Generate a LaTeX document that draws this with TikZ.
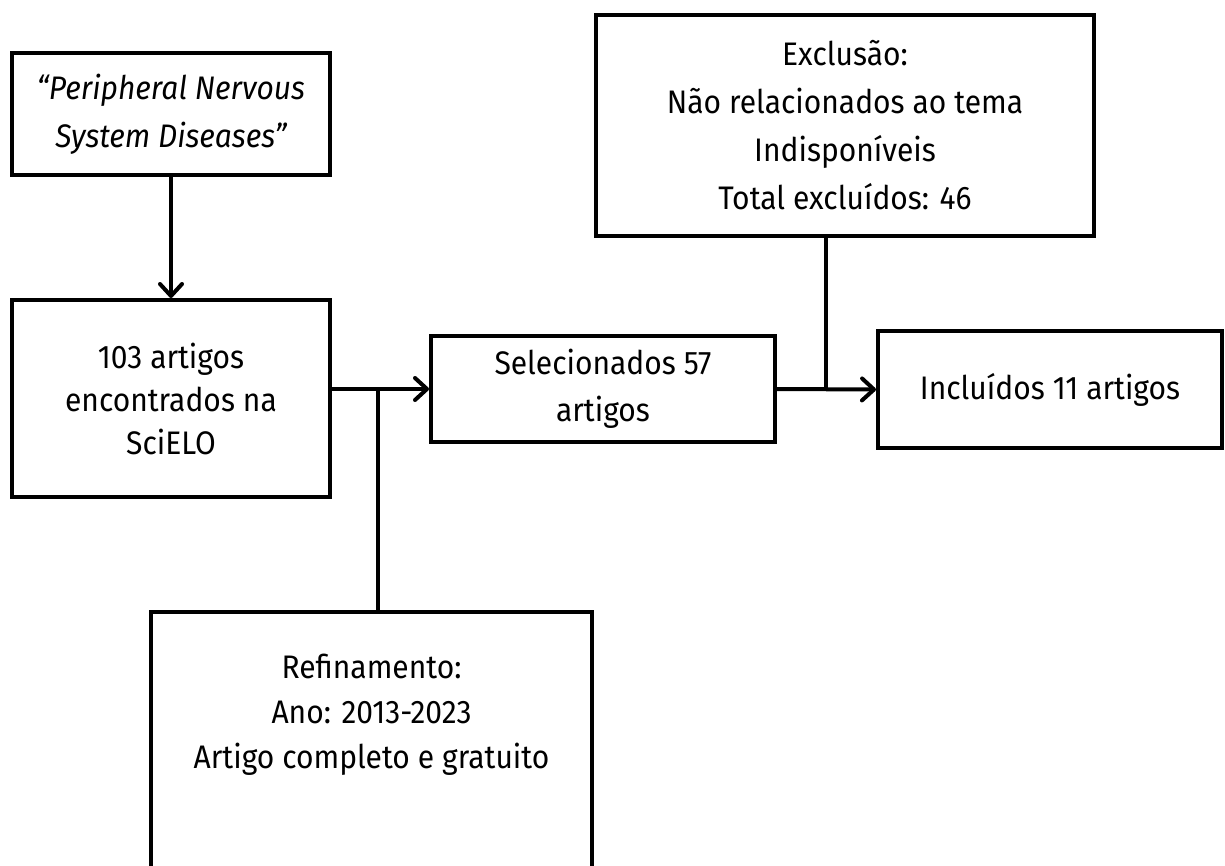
\documentclass[tikz,border=0pt]{standalone}
\usepackage{fontspec}
\setmainfont[FakeStretch=0.92]{Fira Sans}
\usetikzlibrary{arrows.meta}
\begin{document}
\begin{tikzpicture}[x=0.5pt,y=-0.5pt,
  box/.style={draw=black, line width=2pt, rectangle, align=center, inner sep=0pt,
    font=\fontsize{16.3pt}{23pt}\selectfont},
  arr/.style={line width=2pt, -{Straight Barb[length=6pt,width=11pt,round]}},
  link/.style={line width=2pt}]
\useasboundingbox (0,0) rectangle (1225,866);
\fill[white] (0,0) rectangle (1225,866);
\clip (0,0) rectangle (1225,866);
\node[box, minimum width=159pt, minimum height=61pt,
  font=\itshape\fontsize{16.3pt}{24pt}\selectfont] (b1) at (171,114)
  {“Peripheral Nervous\\System Diseases”};
\node[box, minimum width=159pt, minimum height=98.5pt,
  font=\fontsize{16.3pt}{21.5pt}\selectfont] (b2) at (171,398.5)
  {103 artigos\\encontrados na\\SciELO};
\node[box, minimum width=172pt, minimum height=53pt,
  font=\fontsize{16.3pt}{23.5pt}\selectfont] (b3) at (603,389)
  {Selecionados 57\\artigos};
\node[box, minimum width=172pt, minimum height=58.5pt] (b4) at (1050,389.5)
  {Incluídos 11 artigos};
\node[box, minimum width=249pt, minimum height=110.5pt,
  font=\fontsize{16.3pt}{24pt}\selectfont] (ex) at (845,125.5)
  {Exclusão:\\Não relacionados ao tema\\Indisponíveis\\Total excluídos: 46};
\node[box, anchor=north, minimum width=220.5pt, inner ysep=21pt, text depth=120pt,
  font=\fontsize{16.3pt}{22.5pt}\selectfont] (rf) at (371.5,610)
  {Refinamento:\\Ano: 2013-2023\\Artigo completo e gratuito};
\coordinate (j1) at (378,389);
\coordinate (j2) at (826,389);
\draw[arr] (b1) -- (b2);
\draw[arr] (b2.east |- b3.west) -- (b3.west);
\draw[link] (j1) -- (j1 |- rf.north);
\draw[arr] (b3.east) -- (b4.west);
\draw[link] (j2 |- ex.south) -- (j2);
\end{tikzpicture}
\end{document}
